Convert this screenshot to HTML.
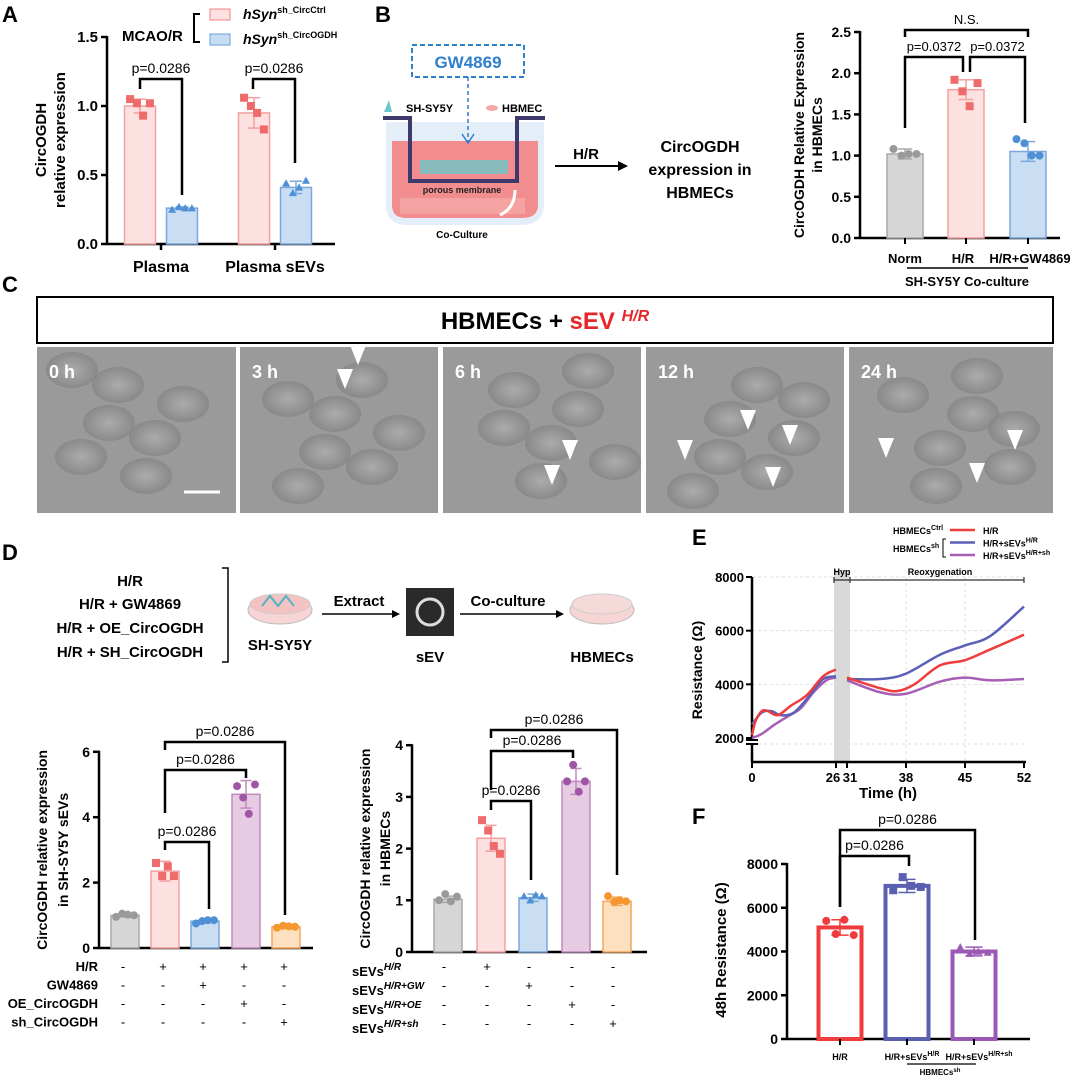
<!DOCTYPE html>
<html><head><meta charset="utf-8">
<style>
html,body{margin:0;padding:0;background:#fff;}
svg{display:block;font-family:"Liberation Sans",Arial,sans-serif;}
</style></head>
<body>
<svg id="fig" width="1076" height="1077" viewBox="0 0 1076 1077" xmlns="http://www.w3.org/2000/svg">
<defs>
<radialGradient id="cellg" cx="50%" cy="50%" r="50%"><stop offset="0" stop-color="#b0b0b0"/><stop offset="1" stop-color="#858585"/></radialGradient>
<clipPath id="mclip"><rect x="37" y="347" width="1016" height="166"/></clipPath>
</defs>
<text x="2" y="22" font-size="22" font-weight="bold">A</text>
<text x="375" y="22" font-size="22" font-weight="bold">B</text>
<text x="2" y="292" font-size="22" font-weight="bold">C</text>
<text x="2" y="560" font-size="22" font-weight="bold">D</text>
<text x="692" y="545" font-size="22" font-weight="bold">E</text>
<text x="692" y="824" font-size="22" font-weight="bold">F</text>

<g font-weight="bold">
<text x="122" y="41" font-size="15">MCAO/R</text>
<path d="M200,14 H194 V42 H200" fill="none" stroke="#000" stroke-width="2"/>
<rect x="210" y="9" width="20" height="11" fill="#fde0e0" stroke="#f08080"/>
<rect x="210" y="34" width="20" height="11" fill="#c6dcf2" stroke="#6a9fd8"/>
<text x="243" y="19" font-size="14" font-style="italic">hSyn<tspan font-size="9" dy="-6" font-style="normal">sh_CircCtrl</tspan></text>
<text x="243" y="44" font-size="14" font-style="italic">hSyn<tspan font-size="9" dy="-6" font-style="normal">sh_CircOGDH</tspan></text>
</g>

<g>
<rect x="412" y="45" width="112" height="32" fill="none" stroke="#2f7fcf" stroke-width="2" stroke-dasharray="5,3"/>
<text x="468" y="68" font-size="17" font-weight="bold" fill="#2f7fcf" text-anchor="middle">GW4869</text>
<path d="M386,122 H544 V205 Q544,225 520,225 H408 Q386,225 386,205 Z" fill="#e4eef9"/>
<path d="M392,141 H538 V205 Q538,218 522,218 H406 Q392,218 392,205 Z" fill="#f28d8f"/>
<path d="M383,118 H410 V181 H517 V118 H545" fill="none" stroke="#3d3a6b" stroke-width="4"/>
<line x1="410" y1="181" x2="517" y2="181" stroke="#3d3a6b" stroke-width="4" stroke-dasharray="5,3"/>
<rect x="420" y="160" width="88" height="14" fill="#6cc6c8" opacity="0.8"/>
<line x1="468" y1="77" x2="468" y2="142" stroke="#2f7fcf" stroke-width="1.5" stroke-dasharray="4,3"/>
<path d="M462,134 L468,143 L474,134" fill="none" stroke="#2f7fcf" stroke-width="1.5"/>
<text x="462" y="193" font-size="9" font-weight="bold" text-anchor="middle" fill="#222">porous membrane</text>
<rect x="400" y="198" width="125" height="16" fill="#f4a8a6" opacity="0.8"/>
<path d="M515,190 Q515,208 500,215" fill="none" stroke="#fff" stroke-width="3"/>
<text x="462" y="238" font-size="10" font-weight="bold" text-anchor="middle">Co-Culture</text>
<path d="M384,112 L389,100 L392,112 Z" fill="#6cc6c8"/>
<text x="406" y="112" font-size="11" font-weight="bold">SH-SY5Y</text>
<ellipse cx="492" cy="108" rx="6" ry="3" fill="#f4a8a6"/>
<text x="502" y="112" font-size="11" font-weight="bold">HBMEC</text>
<line x1="555" y1="166" x2="622" y2="166" stroke="#000" stroke-width="2"/>
<path d="M618,161 L628,166 L618,171 Z" fill="#000"/>
<text x="586" y="159" font-size="15" font-weight="bold" text-anchor="middle">H/R</text>
<text x="700" y="152" font-size="16" font-weight="bold" text-anchor="middle">CircOGDH</text>
<text x="700" y="175" font-size="16" font-weight="bold" text-anchor="middle">expression in</text>
<text x="700" y="198" font-size="16" font-weight="bold" text-anchor="middle">HBMECs</text>
</g>

<g>
<rect x="37" y="297" width="1016" height="46" fill="#fff" stroke="#000" stroke-width="2"/>
<text x="545" y="329" font-size="24" font-weight="bold" text-anchor="middle">HBMECs + <tspan fill="#e8262a">sEV <tspan font-style="italic" font-size="16" dy="-8">H/R</tspan></tspan></text>
</g>
<g id="micro" clip-path="url(#mclip)"></g>

<g font-weight="bold">
<text x="130" y="586" font-size="15" text-anchor="middle">H/R</text>
<text x="130" y="609" font-size="15" text-anchor="middle">H/R + GW4869</text>
<text x="130" y="633" font-size="15" text-anchor="middle">H/R + OE_CircOGDH</text>
<text x="130" y="657" font-size="15" text-anchor="middle">H/R + SH_CircOGDH</text>
<path d="M222,568 H228 V662 H222" fill="none" stroke="#000" stroke-width="1.5"/>
<ellipse cx="280" cy="610" rx="32" ry="14" fill="#f7d5d5" stroke="#bbb"/>
<ellipse cx="280" cy="604" rx="30" ry="10" fill="#f3c3c3" stroke="#ccc"/>
<path d="M262,606 L270,596 L278,606 L286,596 L294,606" fill="none" stroke="#4fb6c0" stroke-width="2"/>
<text x="280" y="650" font-size="15" text-anchor="middle">SH-SY5Y</text>
<line x1="322" y1="614" x2="396" y2="614" stroke="#000" stroke-width="1.5"/>
<path d="M392,610 L400,614 L392,618 Z" fill="#000"/>
<text x="359" y="606" font-size="15" text-anchor="middle">Extract</text>
<rect x="406" y="588" width="48" height="48" fill="#2a2a2a"/>
<circle cx="430" cy="612" r="13" fill="none" stroke="#ddd" stroke-width="3"/>
<text x="430" y="662" font-size="15" text-anchor="middle">sEV</text>
<line x1="460" y1="614" x2="560" y2="614" stroke="#000" stroke-width="1.5"/>
<path d="M556,610 L564,614 L556,618 Z" fill="#000"/>
<text x="508" y="606" font-size="15" text-anchor="middle">Co-culture</text>
<ellipse cx="602" cy="610" rx="32" ry="14" fill="#f7d5d5" stroke="#bbb"/>
<ellipse cx="602" cy="604" rx="30" ry="10" fill="#f6dada" stroke="#ccc"/>
<text x="602" y="662" font-size="15" text-anchor="middle">HBMECs</text>
</g>

<g id="charts"></g>
</svg>

<script>
const NS='http://www.w3.org/2000/svg';
const svg=document.getElementById('fig');
function el(tag,attrs,parent,txt){const e=document.createElementNS(NS,tag);for(const k in attrs)e.setAttribute(k,attrs[k]);if(txt!==undefined)e.textContent=txt;(parent||svg).appendChild(e);return e;}

// Panel A
const aCategories=['Plasma','Plasma sEVs'];
const aCtrlMeans=[1.0,0.95];
const aShMeans=[0.26,0.41];
const aCtrlSD=[0.05,0.11];
const aShSD=[0.01,0.045];
const aCtrlPoints=[[1.05,1.02,0.93,1.02],[1.06,1.0,0.95,0.83]];
const aShPoints=[[0.25,0.27,0.26,0.26],[0.44,0.37,0.41,0.46]];
const aTicks=[0,0.5,1.0,1.5];
// Panel B
const bCategories=['Norm','H/R','H/R+GW4869'];
const bMeans=[1.02,1.8,1.05];
const bSD=[0.06,0.12,0.12];
const bPoints=[[1.08,1.0,1.02,1.02],[1.92,1.78,1.6,1.88],[1.2,1.15,1.0,1.0]];
const bTicks=[0,0.5,1.0,1.5,2.0,2.5];
// Panel D left
const dlMeans=[1.0,2.35,0.82,4.7,0.65];
const dlSD=[0.05,0.3,0.05,0.42,0.05];
const dlPoints=[[0.95,1.05,1.02,1.0],[2.6,2.2,2.5,2.2],[0.75,0.82,0.85,0.85],[4.95,4.6,4.1,5.0],[0.62,0.68,0.66,0.65]];
const dlTicks=[0,2,4,6];
// Panel D right
const drMeans=[1.02,2.2,1.05,3.3,0.98];
const drSD=[0.06,0.25,0.07,0.25,0.08];
const drPoints=[[1.0,1.12,0.98,1.07],[2.55,2.35,2.05,1.9],[1.08,1.0,1.1,1.08],[3.3,3.62,3.1,3.3],[1.08,0.97,1.0,0.98]];
const drTicks=[0,1,2,3,4];
// Panel E
const eTicksX=[0,26,31,38,45,52];
const eTicksY=[2000,4000,6000,8000];
const eRedT=[0,1,3,5,8,12,17,22,26, 31,35,37,39,42,45,48,52];
const eRedV=[2100,2600,3000,3000,2850,3200,3600,4300,4550, 4250,3850,3750,4000,4700,4900,5300,5850];
const eBlueT=[0,3,6,9,13,18,22,26, 31,35,38,42,45,48,52];
const eBlueV=[2500,2950,3000,2850,2950,3600,4200,4300, 4200,4200,4400,5100,5450,5800,6900];
const ePurT=[0,3,7,11,15,19,23,26, 31,35,38,42,45,48,52];
const ePurV=[2000,2150,2500,2800,3100,3700,4150,4250, 4150,3700,3650,4100,4250,4150,4200];
// Panel F
const fCategories=['H/R','H/R+sEVs','H/R+sEVs'];
const fMeans=[5100,7000,4000];
const fSD=[350,300,200];
const fPoints=[[5400,4800,5450,4750],[6800,7400,7000,6950],[4200,3900,4000,3950]];
const fTicks=[0,2000,4000,6000,8000];

const C={gray:['#d6d6d6','#a8a8a8','#9a9a9a'],pink:['#fde0e0','#f4a0a0','#ee6b6b'],blue:['#c9ddf3','#7aa8dc','#4f8fd6'],purple:['#e7cbe3','#be8cbc','#a055a6'],orange:['#fde0c0','#f6a55a','#f5962f']};
const chartRoot=document.getElementById('charts');

function yAxis(g,x,y0,yTop,ticks,scale,fmt,fs){
  const ax=el('line',{x1:x,y1:y0+1,x2:x,y2:yTop-1,stroke:'#000','stroke-width':2.5},g);
  
  
  ticks.forEach(t=>{const y=scale(t);
    el('line',{x1:x-6,y1:y,x2:x,y2:y,stroke:'#000','stroke-width':2.5},g);
    const tl=el('text',{x:x-9,y:y+5,'font-size':fs||14,'font-weight':'bold','text-anchor':'end'},g,fmt(t));
    
    
  });
}
function marker(g,shape,cx,cy,col,r){
  if(shape==='sq')return el('rect',{x:cx-r,y:cy-r,width:2*r,height:2*r,fill:col},g);
  if(shape==='tri')return el('path',{d:'M'+(cx-r)+','+(cy+r*0.8)+' L'+cx+','+(cy-r)+' L'+(cx+r)+','+(cy+r*0.8)+' Z',fill:col},g);
  return el('circle',{cx:cx,cy:cy,r:r,fill:col},g);
}
function bar(g,cx,w,mean,sd,pts,scale,y0,col,shape,name,open){
  const y=scale(mean);
  const b=el('rect',{x:cx-w/2,y:y,width:w,height:y0-y,fill:open?'none':col[0],stroke:col[1],'stroke-width':open?4:1.5},g);
  
  
  const eb=scale(mean+sd), el2=scale(mean-sd);
  el('line',{x1:cx,y1:eb,x2:cx,y2:el2,stroke:col[1],'stroke-width':1.5},g);
  el('line',{x1:cx-w*0.2,y1:eb,x2:cx+w*0.2,y2:eb,stroke:col[1],'stroke-width':1.5},g);
  el('line',{x1:cx-w*0.2,y1:el2,x2:cx+w*0.2,y2:el2,stroke:col[1],'stroke-width':1.5},g);
  const off=[-0.32,-0.1,0.1,0.32];
  pts.forEach((p,i)=>{const m=marker(g,shape,cx+off[i]*w,scale(p),col[2],4);
    
    });
}
function bracket(g,x1,x2,yt,y1,y2,label,fs){
  el('path',{d:'M'+x1+','+y1+' V'+yt+' H'+x2+' V'+y2,fill:'none',stroke:'#000','stroke-width':2.5},g);
  const t=el('text',{x:(x1+x2)/2,y:yt-6,'font-size':fs||14,'text-anchor':'middle'},g,label);
  
  
}

// Panel A
(function(){
  const g=el('g',{},chartRoot);
  
  
  const x0=107,y0=244,u=138;const sc=v=>y0-v*u;
  yAxis(g,x0,y0,sc(1.5),aTicks,sc,v=>v.toFixed(1),15);
  el('line',{x1:x0,y1:y0,x2:335,y2:y0,stroke:'#000','stroke-width':2.5},g);
  const centers=[161,275];
  aCategories.forEach((c,i)=>{
    bar(g,centers[i]-21,31,aCtrlMeans[i],aCtrlSD[i],aCtrlPoints[i],sc,y0,C.pink,'sq','bar-ctrl-'+i);
    bar(g,centers[i]+21,31,aShMeans[i],aShSD[i],aShPoints[i],sc,y0,C.blue,'tri','bar-sh-'+i);
    el('line',{x1:centers[i],y1:y0,x2:centers[i],y2:y0+6,stroke:'#000','stroke-width':2.5},g);
    const t=el('text',{x:centers[i],y:272,'font-size':16,'font-weight':'bold','text-anchor':'middle'},g,c);
    
    
  });
  bracket(g,140,182,79,89,195,'p=0.0286');
  bracket(g,253,295,79,89,163,'p=0.0286');
  const yl=el('text',{transform:'translate(46,140) rotate(-90)','font-size':15,'font-weight':'bold','text-anchor':'middle'},g,'CircOGDH');
  
  
  el('text',{transform:'translate(65,140) rotate(-90)','font-size':15,'font-weight':'bold','text-anchor':'middle'},g,'relative expression');
})();

// Panel B
(function(){
  const g=el('g',{},chartRoot);
  
  
  const x0=860,y0=238,u=82.4;const sc=v=>y0-v*u;
  yAxis(g,x0,y0,sc(2.5),bTicks,sc,v=>v.toFixed(1),14);
  el('line',{x1:x0,y1:y0,x2:1060,y2:y0,stroke:'#000','stroke-width':2.5},g);
  const centers=[905,966,1028];const cols=[C.gray,C.pink,C.blue];const sh=['c','sq','c'];
  bCategories.forEach((c,i)=>{
    bar(g,centers[i],36,bMeans[i],bSD[i],bPoints[i],sc,y0,cols[i],sh[i],'bar-'+c.toLowerCase());
    el('line',{x1:centers[i],y1:y0,x2:centers[i],y2:y0+6,stroke:'#000','stroke-width':2},g);
  });
  el('text',{x:905,y:263,'font-size':13,'font-weight':'bold','text-anchor':'middle'},g,'Norm');
  el('text',{x:963,y:263,'font-size':13,'font-weight':'bold','text-anchor':'middle'},g,'H/R');
  el('text',{x:1030,y:263,'font-size':13,'font-weight':'bold','text-anchor':'middle'},g,'H/R+GW4869');
  el('line',{x1:907,y1:268,x2:1028,y2:268,stroke:'#000','stroke-width':1.5},g);
  el('text',{x:967,y:286,'font-size':13,'font-weight':'bold','text-anchor':'middle'},g,'SH-SY5Y Co-culture');
  bracket(g,905,963,57,128,72,'p=0.0372',13);
  bracket(g,970,1025,57,72,123,'p=0.0372',13);
  bracket(g,905,1028,30,37,37,'N.S.',13);
  const yl=el('text',{transform:'translate(804,135) rotate(-90)','font-size':14,'font-weight':'bold','text-anchor':'middle'},g,'CircOGDH Relative Expression');
  
  
  el('text',{transform:'translate(822,135) rotate(-90)','font-size':14,'font-weight':'bold','text-anchor':'middle'},g,'in HBMECs');
})();

// Panel C micrographs
(function(){
  const g=document.getElementById('micro');
  const xs=[[37,236],[240,438],[443,641],[646,844],[849,1053]];
  const labels=['0 h','3 h','6 h','12 h','24 h'];
  const arrows=[[],[[358,340],[345,364]],[[570,435],[552,460]],[[748,405],[790,420],[685,435],[773,462]],[[886,433],[1015,425],[977,458]]];
  xs.forEach((r,i)=>{
    const p=el('rect',{x:r[0],y:347,width:r[1]-r[0],height:166,fill:'#9a9a9a'},g);
    
    
    for(let k=0;k<7;k++){
      el('ellipse',{cx:r[0]+35+(k*37+i*13)%(r[1]-r[0]-60),cy:370+((k*53+i*29)%125),rx:26,ry:18,fill:'url(#cellg)',opacity:0.8},g);
    }
    el('text',{x:r[0]+12,y:378,'font-size':18,'font-weight':'bold',fill:'#fff'},g,labels[i]);
    arrows[i].forEach(a=>{el('path',{d:'M'+a[0]+','+(a[1]+25)+' l-8,-20 l16,0 Z',fill:'#fff'},g);});
  });
  el('line',{x1:184,y1:492,x2:220,y2:492,stroke:'#fff','stroke-width':3},g);
})();

// Panel D charts
function dChart(name,x0,y0,u,top,ticks,means,sds,pts,centers,axEnd,shapes,ttl1,ttl2,tx1,tx2){
  const g=el('g',{},chartRoot);
  
  
  const sc=v=>y0-v*u;
  yAxis(g,x0,y0,sc(top),ticks,sc,v=>String(v),14);
  el('line',{x1:x0,y1:y0,x2:axEnd,y2:y0,stroke:'#000','stroke-width':2.5},g);
  const cols=[C.gray,C.pink,C.blue,C.purple,C.orange];
  means.forEach((m,i)=>bar(g,centers[i],28,m,sds[i],pts[i],sc,y0,cols[i],shapes[i],name+'-bar-'+i));
  const mid=(y0+sc(top))/2;
  el('text',{transform:'translate('+tx1+','+mid+') rotate(-90)','font-size':14,'font-weight':'bold','text-anchor':'middle'},g,ttl1);
  el('text',{transform:'translate('+tx2+','+mid+') rotate(-90)','font-size':14,'font-weight':'bold','text-anchor':'middle'},g,ttl2);
  return {g:g,sc:sc};
}
(function(){
  const centers=[125,165,205,246,286];
  const r=dChart('chart-d-left',99,948,32.7,6,dlTicks,dlMeans,dlSD,dlPoints,centers,313,['c','sq','c','c','c'],'CircOGDH relative expression','in SH-SY5Y sEVs',47,68);
  bracket(r.g,165,209,842,850,909,'p=0.0286');
  bracket(r.g,165,246,770,813,778,'p=0.0286');
  bracket(r.g,165,285,742,750,915,'p=0.0286');
  const rows=['H/R','GW4869','OE_CircOGDH','sh_CircOGDH'];
  const tbl=[['-','+','+','+','+'],['-','-','+','-','-'],['-','-','-','+','-'],['-','-','-','-','+']];
  rows.forEach((rw,j)=>{const y=971+j*18.5;
    el('text',{x:98,y:y,'font-size':13,'font-weight':'bold','text-anchor':'end'},r.g,rw);
    tbl[j].forEach((s,i)=>el('text',{x:centers[i]-2,y:y,'font-size':13,'text-anchor':'middle'},r.g,s));});
})();
(function(){
  const centers=[448,491,533,576,617];
  const r=dChart('chart-d-right',412,952,51.7,4,drTicks,drMeans,drSD,drPoints,centers,647,['c','sq','tri','c','c'],'CircOGDH relative expression','in HBMECs',370,390);
  bracket(r.g,491,531,801,810,880,'p=0.0286');
  bracket(r.g,491,573,751,790,758,'p=0.0286');
  bracket(r.g,491,617,730,738,875,'p=0.0286');
  const rows=['H/R','H/R+GW','H/R+OE','H/R+sh'];
  const tbl=[['-','+','-','-','-'],['-','-','+','-','-'],['-','-','-','+','-'],['-','-','-','-','+']];
  rows.forEach((rw,j)=>{const y=971+j*19;
    const t=el('text',{x:352,y:y+5,'font-size':13,'font-weight':'bold'},r.g,'sEVs');
    el('tspan',{'font-size':10,dy:-6,'font-style':'italic'},t,rw);
    tbl[j].forEach((s,i)=>el('text',{x:centers[i]-4,y:y,'font-size':13,'text-anchor':'middle'},r.g,s));});
})();

// Panel E
(function(){
  const g=el('g',{},chartRoot);
  
  
  const sx=t=>t<=26?752+t*(836-752)/26:847+(t-31)*(1024-847)/21;
  const sy=v=>738-(v-2000)*(161/6000);
  eTicksY.forEach(v=>{if(v>2000)el('line',{x1:752,y1:sy(v),x2:1024,y2:sy(v),stroke:'#ddd','stroke-dasharray':'3,3'},g);});
  [38,45].forEach(t=>el('line',{x1:sx(t),y1:577,x2:sx(t),y2:762,stroke:'#ddd','stroke-dasharray':'3,3'},g));
  el('line',{x1:752,y1:744,x2:1024,y2:744,stroke:'#ddd','stroke-dasharray':'3,3'},g);
  const band=el('rect',{x:834,y:570,width:16,height:192,fill:'#d9d9d9'},g);
  
  
  el('line',{x1:752,y1:577,x2:752,y2:740,stroke:'#000','stroke-width':2.5},g);
  el('line',{x1:752,y1:744,x2:752,y2:762,stroke:'#000','stroke-width':2.5},g);
  el('line',{x1:746,y1:740,x2:758,y2:740,stroke:'#000','stroke-width':2},g);
  el('line',{x1:746,y1:744,x2:758,y2:744,stroke:'#000','stroke-width':2},g);
  el('line',{x1:752,y1:762,x2:1026,y2:762,stroke:'#000','stroke-width':2.5},g);
  eTicksY.forEach(v=>{el('line',{x1:746,y1:sy(v),x2:752,y2:sy(v),stroke:'#000','stroke-width':2},g);
    const t=el('text',{x:744,y:sy(v)+5,'font-size':13,'font-weight':'bold','text-anchor':'end'},g,String(v));
    
    });
  eTicksX.forEach(t=>{el('line',{x1:sx(t),y1:762,x2:sx(t),y2:768,stroke:'#000','stroke-width':2},g);
    const lbl=el('text',{x:sx(t)+(t===26?-3:t===31?3:0),y:782,'font-size':13,'font-weight':'bold','text-anchor':'middle'},g,String(t));
    
    });
  el('text',{x:888,y:798,'font-size':15,'font-weight':'bold','text-anchor':'middle'},g,'Time (h)');
  const yt=el('text',{transform:'translate(702,670) rotate(-90)','font-size':14,'font-weight':'bold','text-anchor':'middle'},g,'Resistance (Ω)');
  
  
  el('path',{d:'M834,583 V577 M834,580 H850 M850,583 V577',stroke:'#000',fill:'none'},g);
  el('path',{d:'M850,583 V577 M850,580 H1024 M1024,583 V577',stroke:'#333',fill:'none','stroke-width':1.2},g);
  el('text',{x:842,y:575,'font-size':9,'font-weight':'bold','text-anchor':'middle'},g,'Hyp');
  el('text',{x:940,y:575,'font-size':9,'font-weight':'bold','text-anchor':'middle'},g,'Reoxygenation');
  function smooth(pts){let d='M'+pts[0][0]+','+pts[0][1];
    for(let i=0;i+1<pts.length;i++){const p0=pts[Math.max(0,i-1)],p1=pts[i],p2=pts[i+1],p3=pts[Math.min(pts.length-1,i+2)];
      d+=' C'+(p1[0]+(p2[0]-p0[0])/6)+','+(p1[1]+(p2[1]-p0[1])/6)+' '+(p2[0]-(p3[0]-p1[0])/6)+','+(p2[1]-(p3[1]-p1[1])/6)+' '+p2[0]+','+p2[1];}
    return d;}
  function series(T,V,col,name){
    const pre=[],post=[];T.forEach((t,i)=>{(t<=26?pre:post).push([sx(t),sy(V[i])]);});
    [pre,post].forEach(p=>{const path=el('path',{d:smooth(p),fill:'none',stroke:col,'stroke-width':2.5},g);
      
      });
  }
  series(ePurT,ePurV,'#a65fb5','line-hr-sevs-sh');
  series(eBlueT,eBlueV,'#5a5fb8','line-hr-sevs');
  series(eRedT,eRedV,'#f03c3c','line-hr');
  const lg=el('g',{'font-size':9,'font-weight':'bold'},g);
  
  
  const lt=el('text',{x:893,y:534},lg,'HBMECs');el('tspan',{'font-size':7,dy:-4},lt,'Ctrl');
  const lt2=el('text',{x:893,y:552},lg,'HBMECs');el('tspan',{'font-size':7,dy:-4},lt2,'sh');
  el('path',{d:'M946,539 H943 V557 H946',fill:'none',stroke:'#000'},lg);
  [['#f03c3c','H/R',''],['#5a5fb8','H/R+sEVs','H/R'],['#a65fb5','H/R+sEVs','H/R+sh']].forEach((s,i)=>{
    const y=530+i*12.5;
    el('line',{x1:950,y1:y,x2:975,y2:y,stroke:s[0],'stroke-width':2.5},lg);
    const t=el('text',{x:983,y:y+4},lg,s[1]);if(s[2])el('tspan',{'font-size':7,dy:-4},t,s[2]);});
})();

// Panel F
(function(){
  const g=el('g',{},chartRoot);
  
  
  const x0=787,y0=1039;const sc=v=>y0-v*(175/8000);
  yAxis(g,x0,y0,sc(8000),fTicks,sc,v=>String(v),14);
  el('line',{x1:x0,y1:y0,x2:1030,y2:y0,stroke:'#000','stroke-width':2.5},g);
  const centers=[840,907,974];
  const cols=[['none','#f03c3c','#f03c3c'],['none','#5a5fb0','#5a5fb0'],['none','#9b59b6','#9b59b6']];
  const sh=['c','sq','tri'];const sup=['','H/R','H/R+sh'];
  fMeans.forEach((m,i)=>{
    bar(g,centers[i],43,m,fSD[i],fPoints[i],sc,y0,cols[i],sh[i],'bar-f-'+i,true);
    el('line',{x1:centers[i],y1:y0,x2:centers[i],y2:y0+6,stroke:'#000','stroke-width':2},g);
    const t=el('text',{x:centers[i]+(i?5:0),y:1060,'font-size':9,'font-weight':'bold','text-anchor':'middle'},g,fCategories[i]);
    
    
    if(sup[i])el('tspan',{'font-size':7,dy:-4},t,sup[i]);
  });
  el('line',{x1:907,y1:1064,x2:976,y2:1064,stroke:'#000','stroke-width':1.2},g);
  const h=el('text',{x:940,y:1075,'font-size':8,'font-weight':'bold','text-anchor':'middle'},g,'HBMECs');
  el('tspan',{'font-size':6,dy:-3},h,'sh');
  bracket(g,840,909,856,907,866,'p=0.0286');
  bracket(g,840,975,830,907,940,'p=0.0286');
  el('text',{transform:'translate(726,950) rotate(-90)','font-size':15,'font-weight':'bold','text-anchor':'middle'},g,'48h Resistance (Ω)');
})();
</script>
</body></html>
